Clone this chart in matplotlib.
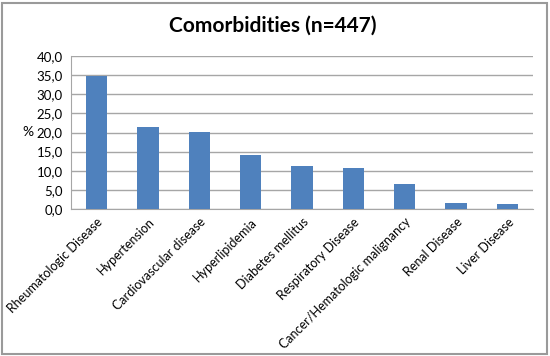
import matplotlib.pyplot as plt
from matplotlib.patches import Rectangle
from matplotlib.ticker import FuncFormatter

from matplotlib import rcParams
rcParams.update({'font.family': ['Lato', 'DejaVu Sans']})

categories = ['Rheumatologic Disease', 'Hypertension', 'Cardiovascular disease',
              'Hyperlipidemia', 'Diabetes mellitus', 'Respiratory Disease',
              'Cancer/Hematologic malignancy', 'Renal Disease', 'Liver Disease']
percent = [34.8, 21.4, 20.1, 14.0, 11.3, 10.8, 6.5, 1.6, 1.2]
yticks = [0, 5, 10, 15, 20, 25, 30, 35, 40]

fig = plt.figure(figsize=(5.5, 3.56), dpi=100)
ax = fig.add_axes([71/550, 1 - 209/356, (533-71)/550, (209-56)/356])

x = range(len(categories))
ax.bar(x, percent, width=0.41, color='#4f81bd', zorder=3)

ax.set_xlim(-0.5, len(categories) - 0.5)
ax.set_ylim(0, 40)
ax.set_yticks(yticks)
ax.yaxis.set_major_formatter(FuncFormatter(lambda v, p: ('%.1f' % v).replace('.', ',')))
ax.grid(axis='y', color='#a6a6a6', linewidth=1, zorder=0)
ax.set_xticks(list(x))
ax.set_xticklabels(categories, rotation=45, ha='right', rotation_mode='anchor',
                   fontsize=9)
ax.tick_params(axis='y', labelsize=9.5, length=0, pad=6)
ax.tick_params(axis='x', length=0, pad=5)

for side in ['top', 'right']:
    ax.spines[side].set_visible(False)
ax.spines['left'].set_color('#a6a6a6')
ax.spines['bottom'].set_color('#a6a6a6')

ax.set_ylabel('%', rotation=0, fontsize=10, labelpad=6, va='center')

fig.text(273/550, 1 - 26/356, 'Comorbidities (n=447)', ha='center', va='center',
         fontsize=15, fontweight='bold')

# outer chart border
fig.patches.append(Rectangle((2/550, 2/356), 545/550, 351/356, transform=fig.transFigure,
                             fill=False, edgecolor='#9a9a9a', linewidth=1.5))

fig.savefig('out.png', dpi=100)
